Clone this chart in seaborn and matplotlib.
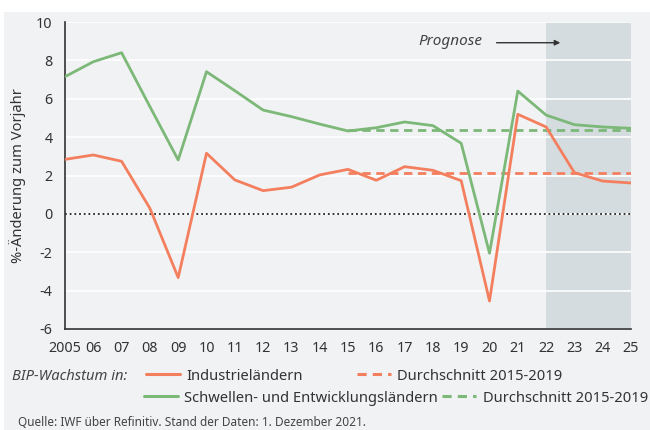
import matplotlib
matplotlib.use("Agg")
import matplotlib.pyplot as plt
from matplotlib.lines import Line2D
from matplotlib.patches import Rectangle
import pandas as pd
import seaborn as sns

# BIP-Wachstum, %-Änderung zum Vorjahr (ab 2022 Prognose)
years = list(range(2005, 2026))
industrie = [2.84, 3.07, 2.74, 0.29, -3.32, 3.16, 1.77, 1.21, 1.39, 2.03, 2.32,
             1.75, 2.46, 2.27, 1.73, -4.54, 5.19, 4.53, 2.15, 1.71, 1.61]
schwellen = [7.15, 7.93, 8.40, 5.59, 2.81, 7.41, 6.42, 5.41, 5.07, 4.68, 4.32,
             4.49, 4.79, 4.60, 3.68, -2.05, 6.40, 5.15, 4.65, 4.53, 4.46]
avg_years = list(range(2015, 2026))
avg_industrie = 2.12
avg_schwellen = 4.37
prognose_start = 2022

series_names = ["Industrieländern", "Schwellen- und Entwicklungsländern"]
avg_label = "Durchschnitt 2015-2019"
x_labels = ["2005"] + [f"{y % 100:02d}" for y in years[1:]]
y_ticks = list(range(-6, 11, 2))

orange = "#f47f5f"
green = "#7cb878"
panel = "#f1f2f4"
shade = "#d5dce0"
text_col = "#333333"
fs = 10.6

sns.set_style("white")
plt.rcParams['font.family'] = ['Noto Sans', 'DejaVu Sans']
plt.rcParams['axes.unicode_minus'] = False

df = pd.DataFrame({
    "Jahr": years * 2,
    "Wachstum": industrie + schwellen,
    "Gruppe": [series_names[0]] * len(years) + [series_names[1]] * len(years),
})

fig = plt.figure(figsize=(6.5, 4.3), dpi=100, facecolor="white")
fig.patches.append(Rectangle((4 / 650, 0), 1, 1 - 12 / 430, transform=fig.transFigure,
                             facecolor=panel, edgecolor="none", zorder=-1))
ax = fig.add_axes([65 / 650, 1 - 329 / 430, (631 - 65) / 650, (329 - 22) / 430])
ax.set_facecolor("none")

ax.axvspan(prognose_start, years[-1], color=shade, lw=0, zorder=0.2)
ax.set_axisbelow(True)
ax.yaxis.grid(True, color="white", lw=1.2)
ax.xaxis.grid(False)

sns.lineplot(data=df, x="Jahr", y="Wachstum", hue="Gruppe",
             palette={series_names[0]: orange, series_names[1]: green},
             linewidth=2, legend=False, ax=ax, zorder=3)
ax.plot(avg_years, [avg_industrie] * len(avg_years), color=orange, lw=2,
        ls=(0, (3, 2)), zorder=2)
ax.plot(avg_years, [avg_schwellen] * len(avg_years), color=green, lw=2,
        ls=(0, (3, 2)), zorder=2)
ax.axhline(0, color="#222222", lw=1.3, ls=(0, (1, 1.6)), zorder=2.5)

ax.set_xlim(years[0], years[-1])
ax.set_ylim(-6, 10)
ax.set_xticks(years)
ax.set_xticklabels(x_labels)
ax.set_yticks(y_ticks)
ax.set_yticklabels([str(v) for v in y_ticks])
ax.set_xlabel("")
ax.set_ylabel("%-Änderung zum Vorjahr", fontsize=fs, color=text_col, labelpad=7)
ax.tick_params(direction="out", length=6, width=1, color=text_col,
               labelsize=10.3, labelcolor=text_col, pad=3)
for s in ["top", "right"]:
    ax.spines[s].set_visible(False)
for s in ["left", "bottom"]:
    ax.spines[s].set_color(text_col)
    ax.spines[s].set_linewidth(1.2)

ax.text(2018.6, 9.0, "Prognose", style="italic", ha="center", va="center",
        fontsize=11, color="#444444")
ax.annotate("", xy=(2022.6, 8.92), xytext=(2020.15, 8.92),
            arrowprops=dict(arrowstyle="-|>", color=text_col, lw=1, mutation_scale=8))

# legend rows
fig.text(12 / 650, 1 - 376 / 430, "BIP-Wachstum in:", style="italic",
         fontsize=fs, color="#444444", va="center")
entries = [
    (146, 376, orange, "-", series_names[0], "center left"),
    (357, 376, orange, (0, (3, 2)), avg_label, "center left"),
    (144, 398, green, "-", series_names[1], "center left"),
    (648, 398, green, (0, (3, 2)), avg_label, "center right"),
]
for x, y, c, ls, lab, loc in entries:
    h = Line2D([], [], color=c, lw=2.2, ls=ls)
    fig.legend(handles=[h], labels=[lab], loc=loc,
               bbox_to_anchor=(x / 650, 1 - y / 430), frameon=False,
               borderpad=0, borderaxespad=0, handlelength=2.3,
               handletextpad=0.45, fontsize=fs, labelcolor=text_col)

fig.text(18 / 650, 1 - 422 / 430,
         "Quelle: IWF über Refinitiv. Stand der Daten: 1. Dezember 2021.",
         fontsize=8.5, color="#444444", va="center")

fig.savefig("out.png", dpi=100, facecolor=fig.get_facecolor())
